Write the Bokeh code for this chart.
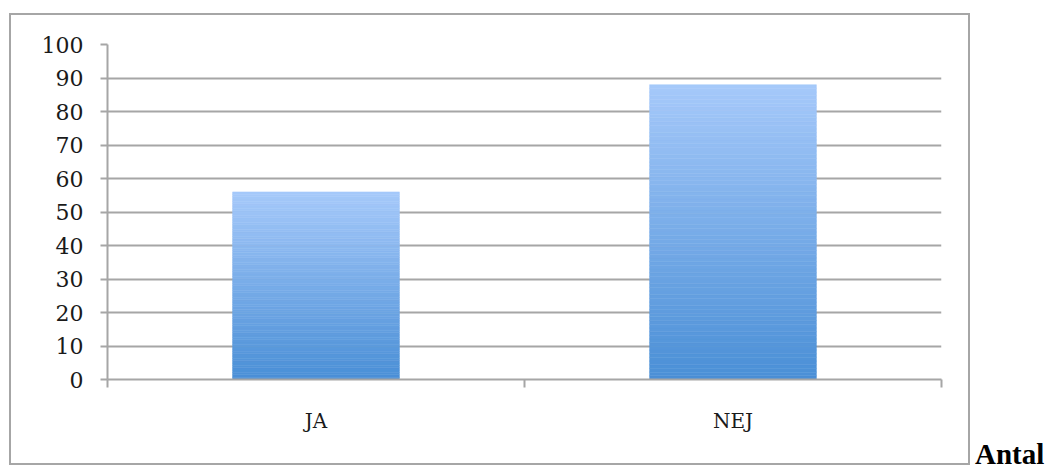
from bokeh.plotting import figure
from bokeh.models import FixedTicker, Range1d, Div
from bokeh.layouts import row
from bokeh.embed import file_html
from bokeh.resources import INLINE

categories = ["JA", "NEJ"]
values = [56, 88]
y_ticks = [0, 10, 20, 30, 40, 50, 60, 70, 80, 90, 100]
side_label = "Antal"

GRAY = "#a6a6a6"
TOP_COLOR = (166, 201, 250)
BOTTOM_COLOR = (74, 143, 214)
BAR_WIDTH = 0.4
N_STRIPS = 80
FONT = "DejaVu Serif"

p = figure(width=957, height=448, output_backend="svg", toolbar_location=None,
           x_range=Range1d(0, len(categories)), y_range=Range1d(0, 100),
           min_border_left=96, min_border_right=27, min_border_top=29, min_border_bottom=84,
           margin=(15, 0, 0, 11),
           styles={"outline": "2px solid " + GRAY})
p.outline_line_color = None
p.background_fill_color = "white"
p.border_fill_color = "white"

# gradient bars built from strips
lefts, rights, bottoms, tops, colors = [], [], [], [], []
for i, v in enumerate(values):
    for k in range(N_STRIPS):
        t = (k + 0.5) / N_STRIPS
        c = tuple(int(round(BOTTOM_COLOR[j] + (TOP_COLOR[j] - BOTTOM_COLOR[j]) * t)) for j in range(3))
        lefts.append(i + 0.5 - BAR_WIDTH / 2)
        rights.append(i + 0.5 + BAR_WIDTH / 2)
        bottoms.append(v * k / N_STRIPS)
        tops.append(v * (k + 1) / N_STRIPS)
        colors.append("#%02x%02x%02x" % c)
p.quad(left=lefts, right=rights, bottom=bottoms, top=tops, fill_color=colors,
       line_color=colors, line_width=0.5)

# y axis
p.yaxis.ticker = FixedTicker(ticks=y_ticks)
p.yaxis.axis_line_color = GRAY
p.yaxis.axis_line_width = 2
p.yaxis.major_tick_line_color = GRAY
p.yaxis.major_tick_line_width = 2
p.yaxis.major_tick_out = 7
p.yaxis.major_tick_in = 0
p.yaxis.minor_tick_line_color = None
p.yaxis.major_label_standoff = 17
p.yaxis.major_label_text_font = FONT
p.yaxis.major_label_text_font_size = "22px"
p.yaxis.major_label_text_color = "#1a1a1a"

# x axis
p.xaxis.ticker = FixedTicker(ticks=[i + 0.5 for i in range(len(categories))],
                             minor_ticks=list(range(len(categories) + 1)))
p.xaxis.major_label_overrides = {i + 0.5: c for i, c in enumerate(categories)}
p.xaxis.axis_line_color = GRAY
p.xaxis.axis_line_width = 2
p.xaxis.major_tick_line_color = None
p.xaxis.minor_tick_line_color = GRAY
p.xaxis.minor_tick_line_width = 2
p.xaxis.minor_tick_out = 8
p.xaxis.minor_tick_in = 0
p.xaxis.major_tick_out = 0
p.xaxis.major_tick_in = 0
p.xaxis.major_label_standoff = 21
p.xaxis.major_label_text_font = FONT
p.xaxis.major_label_text_font_size = "20px"
p.xaxis.major_label_text_color = "#1a1a1a"

p.xgrid.grid_line_color = None
p.ygrid.grid_line_color = GRAY
p.ygrid.grid_line_width = 2
p.ygrid.ticker = FixedTicker(ticks=y_ticks)

div = Div(text=side_label, width=76, height=22, margin=(443, 0, 0, 7),
          styles={"font-family": "Liberation Serif", "font-weight": "bold",
                  "font-size": "29px", "line-height": "22px", "color": "black",
                  "white-space": "nowrap"})

layout = row(p, div)
open("out.html", "w").write(file_html(layout, INLINE))
